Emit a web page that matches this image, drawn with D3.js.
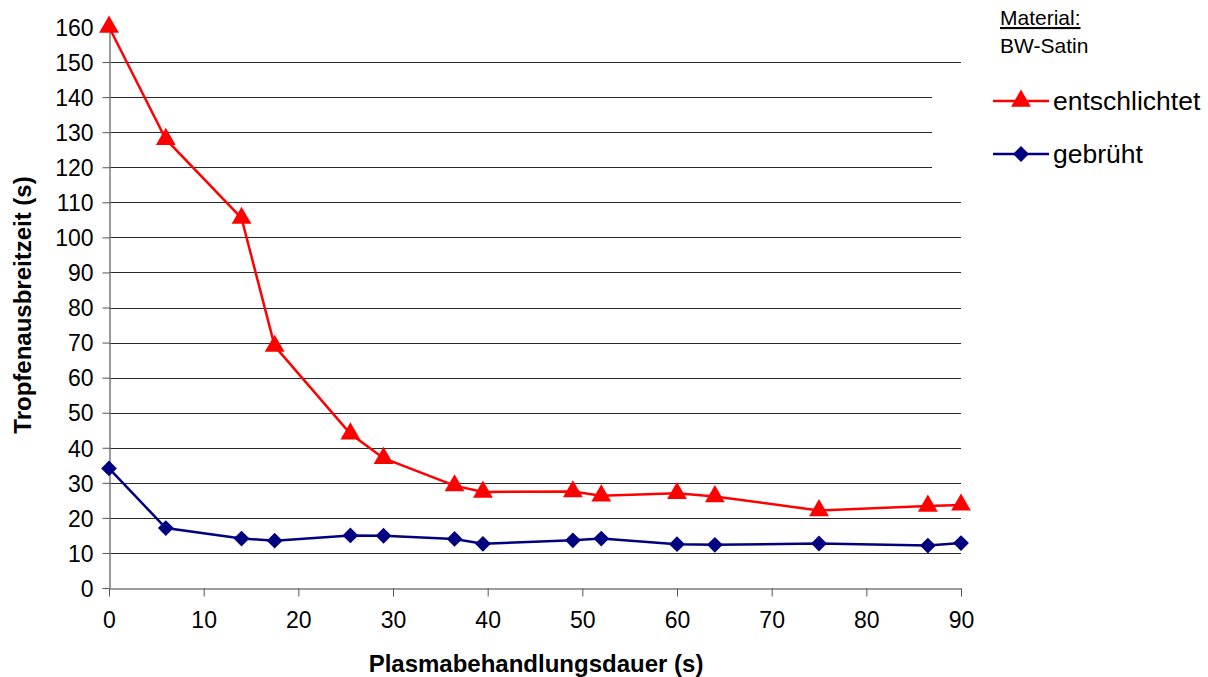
<!DOCTYPE html>
<html>
<head>
<meta charset="utf-8">
<script src="https://cdn.jsdelivr.net/npm/d3@7"></script>
<style>
  body { margin: 0; background: #fff; }
  text { font-family: "Liberation Sans", Arial, sans-serif; }
</style>
</head>
<body>
<div id="chart"></div>
<script>
'use strict'
// data
var dauer = [0, 6, 14, 17.5, 25.5, 29, 36.5, 39.5, 49, 52, 60, 64, 75, 86.5, 90];
var entschlichtet = [160, 128, 105.5, 69, 44, 37, 29.2, 27.4, 27.5, 26.3, 27, 26.1, 22.1, 23.4, 23.7];
var gebrueht = [34.1, 17.1, 14.1, 13.5, 15, 14.9, 14, 12.6, 13.6, 14.1, 12.5, 12.3, 12.7, 12.1, 12.8];
var xTicks = [0, 10, 20, 30, 40, 50, 60, 70, 80, 90];
var yTicks = [0, 10, 20, 30, 40, 50, 60, 70, 80, 90, 100, 110, 120, 130, 140, 150, 160];
var seriesNames = ["entschlichtet", "gebrüht"];

var width = 1208, height = 677;
var plot = { left: 109, right: 961, top: 27, bottom: 588 };

var svg = d3.select("#chart").append("svg")
    .attr("width", width)
    .attr("height", height);

var x = d3.scaleLinear().domain([0, 90]).range([plot.left, plot.right]);
var y = d3.scaleLinear().domain([0, 160]).range([plot.bottom, plot.top]);

//horizontal gridlines (none at the top value)
svg.append("g")
    .selectAll("line")
    .data(yTicks.filter(function(d){ return d > 0 && d < 160; }))
    .enter()
    .append("line")
    .attr("x1", plot.left)
    .attr("x2", plot.right)
    .attr("y1", function(d){ return Math.round(y(d)) + 0.5; })
    .attr("y2", function(d){ return Math.round(y(d)) + 0.5; })
    .attr("stroke", "#2a2a2a")
    .attr("stroke-width", 1);

//axes
var xAxis = svg.append("g")
    .attr("transform", "translate(0," + (plot.bottom + 0.5) + ")")
    .call(d3.axisBottom(x).tickValues(xTicks).tickSize(8).tickSizeOuter(0).tickPadding(15));

var yAxis = svg.append("g")
    .attr("transform", "translate(" + (plot.left + 0.5) + ",0)")
    .call(d3.axisLeft(y).tickValues(yTicks).tickSize(7).tickSizeOuter(0).tickPadding(9));

[xAxis, yAxis].forEach(function(ax){
    ax.select(".domain").attr("stroke", "#7a7a7a").attr("stroke-width", 1.5);
    ax.selectAll(".tick line").attr("stroke", "#555");
    ax.selectAll(".tick text")
        .attr("font-size", "23px")
        .attr("fill", "#000")
        .style("font-family", "'Liberation Sans', Arial, sans-serif");
});
yAxis.selectAll(".tick text").attr("dy", "0.36em");

//legend box sits over the gridlines
svg.append("rect")
    .attr("x", 932)
    .attr("y", 75)
    .attr("width", 276)
    .attr("height", 110)
    .attr("fill", "#fff");

var line = d3.line()
    .x(function(d){ return x(d[0]); })
    .y(function(d){ return y(d[1]); });

var tri = d3.symbol().type(d3.symbolTriangle).size(170);
var dia = d3.symbol().type(d3.symbolSquare).size(125);

function drawSeries(values, color, symbol, rotate){
    var pts = dauer.map(function(d, i){ return [d, values[i]]; });
    svg.append("path")
        .datum(pts)
        .attr("d", line)
        .attr("fill", "none")
        .attr("stroke", color)
        .attr("stroke-width", 2.5);
    svg.append("g")
        .selectAll("path")
        .data(pts)
        .enter()
        .append("path")
        .attr("d", symbol)
        .attr("fill", color)
        .attr("transform", function(d){
            return "translate(" + x(d[0]) + "," + y(d[1]) + ")" + (rotate ? " rotate(45)" : "");
        });
}

drawSeries(gebrueht, "#000080", dia, true);
drawSeries(entschlichtet, "#ff0000", tri, false);

//axis titles
svg.append("text")
    .attr("x", 536)
    .attr("y", 672)
    .attr("text-anchor", "middle")
    .attr("font-size", "24px")
    .attr("font-weight", "bold")
    .text("Plasmabehandlungsdauer (s)");

svg.append("text")
    .attr("transform", "translate(31,305) rotate(-90)")
    .attr("text-anchor", "middle")
    .attr("font-size", "24px")
    .attr("font-weight", "bold")
    .text("Tropfenausbreitzeit (s)");

//material note
svg.append("text")
    .attr("x", 1000)
    .attr("y", 25)
    .attr("font-size", "21px")
    .attr("text-decoration", "underline")
    .text("Material:");

svg.append("text")
    .attr("x", 1000)
    .attr("y", 53)
    .attr("font-size", "21px")
    .text("BW-Satin");

//legend
var legend = [
    { name: seriesNames[0], color: "#ff0000", symbol: tri, rotate: false, y: 101 },
    { name: seriesNames[1], color: "#000080", symbol: dia, rotate: true, y: 154 }
];

var lg = svg.append("g")
    .selectAll("g")
    .data(legend)
    .enter()
    .append("g");

lg.append("line")
    .attr("x1", 993)
    .attr("x2", 1049)
    .attr("y1", function(d){ return d.y; })
    .attr("y2", function(d){ return d.y; })
    .attr("stroke", function(d){ return d.color; })
    .attr("stroke-width", 2.5);

lg.append("path")
    .attr("d", function(d){ return d.symbol(); })
    .attr("fill", function(d){ return d.color; })
    .attr("transform", function(d){
        return "translate(1021," + d.y + ")" + (d.rotate ? " rotate(45)" : "");
    });

lg.append("text")
    .attr("x", 1053)
    .attr("y", function(d){ return d.y + 9; })
    .attr("font-size", "26.5px")
    .text(function(d){ return d.name; });
</script>
</body>
</html>
